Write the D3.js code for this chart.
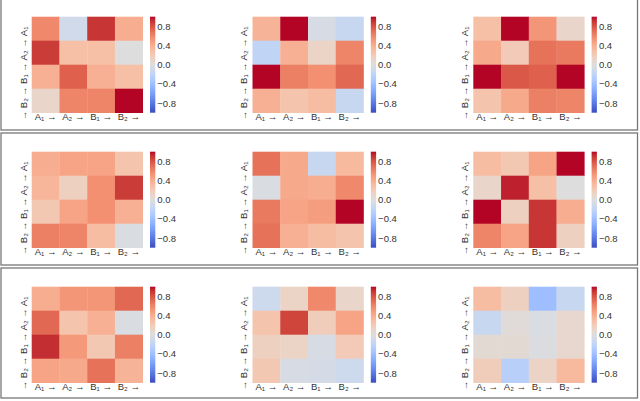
<!DOCTYPE html>
<html>
<head>
<meta charset="utf-8">
<script src="https://cdn.jsdelivr.net/npm/d3@7"></script>
<style>
  html, body { margin: 0; padding: 0; background: #fff; }
  svg text { font-family: "Liberation Sans", Arial, sans-serif; }
</style>
</head>
<body>
<svg id="chart" width="640" height="401"></svg>
<script>
// ---- data ----
const rowLabels = ["A₁", "A₂", "B₁", "B₂"];
const colLabels = ["A₁", "A₂", "B₁", "B₂"];
const cbTicks = [0.8, 0.4, 0.0, -0.4, -0.8];

const m11 = [[0.58, -0.10, 0.90, 0.40], [0.88, 0.28, 0.28, 0.00], [0.38, 0.75, 0.38, 0.28], [0.10, 0.60, 0.60, 1.00]];
const m12 = [[0.36, 1.00, -0.05, -0.15], [-0.20, 0.38, 0.12, 0.60], [1.00, 0.62, 0.55, 0.72], [0.38, 0.25, 0.30, -0.15]];
const m13 = [[0.28, 1.00, 0.52, 0.10], [0.42, 0.20, 0.68, 0.65], [1.00, 0.78, 0.75, 1.00], [0.25, 0.42, 0.62, 0.60]];
const m21 = [[0.40, 0.45, 0.45, 0.25], [0.35, 0.15, 0.55, 0.88], [0.22, 0.45, 0.55, 0.38], [0.62, 0.60, 0.30, -0.03]];
const m22 = [[0.68, 0.42, -0.15, 0.32], [-0.03, 0.42, 0.40, 0.58], [0.65, 0.45, 0.48, 1.00], [0.68, 0.38, 0.30, 0.25]];
const m23 = [[0.30, 0.22, 0.45, 1.00], [0.10, 0.95, 0.28, 0.00], [1.00, 0.15, 0.90, 0.40], [0.60, 0.45, 0.90, 0.15]];
const m31 = [[0.40, 0.52, 0.52, 0.72], [0.72, 0.25, 0.38, -0.03], [0.92, 0.50, 0.22, 0.62], [0.45, 0.42, 0.68, 0.36]];
const m32 = [[-0.12, 0.12, 0.58, 0.10], [0.25, 0.85, 0.18, 0.45], [0.15, 0.12, -0.05, 0.20], [0.22, -0.05, -0.07, -0.12]];
const m33 = [[0.30, 0.15, -0.40, -0.15], [-0.15, 0.02, -0.03, 0.08], [0.05, 0.05, -0.02, 0.08], [0.18, -0.25, 0.12, 0.32]];

const panels = [[m11, m12, m13], [m21, m22, m23], [m31, m32, m33]];

// coolwarm colormap control points (Moreland)
const cwStops = [
  [59,76,192],[68,90,204],[77,104,215],[87,117,225],[98,130,234],[108,142,241],[119,154,247],[130,165,251],
  [141,176,254],[152,185,255],[163,194,255],[174,201,253],[184,208,249],[194,213,244],[204,217,238],[213,219,230],
  [221,221,221],[229,216,209],[236,211,197],[241,204,185],[245,196,173],[247,187,160],[247,177,148],[247,166,135],
  [244,154,123],[241,141,111],[236,127,99],[229,112,88],[222,96,77],[213,80,66],[203,62,56],[192,40,47],[180,4,38]
];

// ---- layout ----
const svg = d3.select("#chart");
const hmW = 111, hmH = 96;
const x0 = 31.7, dxPanel = 220.8;
const y0 = 16.7, dyRow = 135;

const color = d3.scaleLinear()
  .domain(cwStops.map((_, i) => -1 + 2 * i / (cwStops.length - 1)))
  .range(cwStops.map(c => `rgb(${c[0]},${c[1]},${c[2]})`))
  .interpolate(d3.interpolateRgb)
  .clamp(true);

// gradient for colorbars
const defs = svg.append("defs");
const grad = defs.append("linearGradient").attr("id", "cw")
  .attr("x1", 0).attr("y1", 1).attr("x2", 0).attr("y2", 0);
d3.range(0, 65).forEach(i => {
  const t = i / 64;
  grad.append("stop").attr("offset", t).attr("stop-color", color(-1 + 2 * t));
});

// row boxes
const boxes = [[-5, 130], [133, 265], [268, 398]];
svg.selectAll("rect.box").data(boxes).enter().append("rect")
  .attr("class", "box")
  .attr("x", 1).attr("width", 636.5)
  .attr("y", d => d[0]).attr("height", d => d[1] - d[0])
  .attr("fill", "none").attr("stroke", "#777").attr("stroke-width", 1.3);

const xs = d3.scaleBand().domain(colLabels).range([0, hmW]);
const ys = d3.scaleBand().domain(rowLabels).range([0, hmH]);
const cbScale = d3.scaleLinear().domain([-1, 1]).range([hmH, 0]);

panels.forEach((row, ri) => {
  row.forEach((mat, ci) => {
    const g = svg.append("g")
      .attr("transform", `translate(${x0 + ci * dxPanel},${y0 + ri * dyRow})`);

    const cells = [];
    mat.forEach((r, i) => r.forEach((v, j) => cells.push({ r: rowLabels[i], c: colLabels[j], v })));
    g.selectAll("rect.cell").data(cells).enter().append("rect")
      .attr("class", "cell")
      .attr("x", d => xs(d.c)).attr("y", d => ys(d.r))
      .attr("width", xs.bandwidth() + 0.3).attr("height", ys.bandwidth() + 0.3)
      .attr("fill", d => color(d.v));

    // x axis
    const xa = g.append("g").attr("transform", `translate(0,${hmH})`)
      .call(d3.axisBottom(xs).tickSize(0).tickPadding(0.3).tickFormat(d => d + " →"));
    xa.select(".domain").remove();
    xa.selectAll("text").attr("font-size", 9.5).attr("fill", "#333")
      .style("font-family", "'Liberation Sans', Arial, sans-serif");

    // y axis (rotated labels)
    const ya = g.append("g")
      .call(d3.axisLeft(ys).tickSize(0).tickFormat(d => "→ " + d));
    ya.select(".domain").remove();
    ya.selectAll("text")
      .attr("font-size", 9.5).attr("fill", "#333")
      .style("font-family", "'Liberation Sans', Arial, sans-serif")
      .attr("x", 0).attr("dy", null)
      .attr("text-anchor", "middle")
      .attr("transform", "translate(-5.2,8.5) rotate(-90)");

    // colorbar
    const cb = g.append("g").attr("transform", `translate(118.3,0)`);
    cb.append("rect").attr("width", 5.3).attr("height", hmH).attr("fill", "url(#cw)");
    const ca = cb.append("g").attr("transform", "translate(5.3,0)")
      .call(d3.axisRight(cbScale).tickValues(cbTicks).tickSize(0).tickPadding(2)
        .tickFormat(d => d3.format(".1f")(d).replace("-", "−")));
    ca.select(".domain").remove();
    ca.selectAll("text").attr("font-size", 9.5).attr("fill", "#333")
      .style("font-family", "'Liberation Sans', Arial, sans-serif");
  });
});
</script>
</body>
</html>
